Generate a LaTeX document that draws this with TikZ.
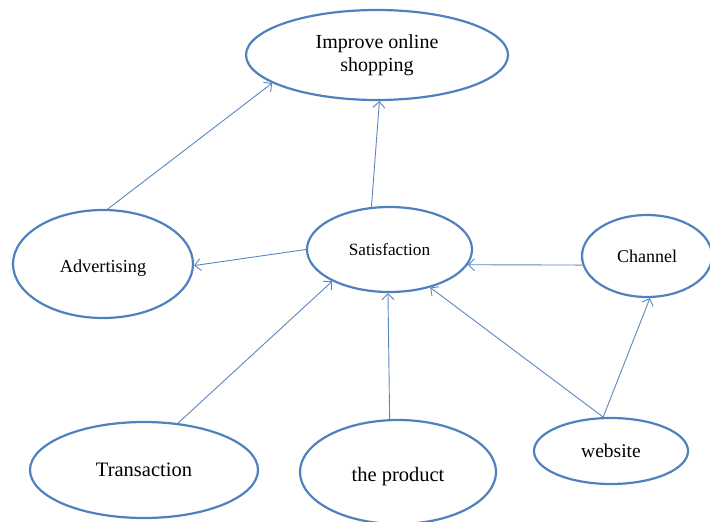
\documentclass[tikz,border=0pt]{standalone}
\usepackage{fontspec}
\setmainfont{Liberation Serif}
\usetikzlibrary{shapes.geometric,arrows.meta}
\definecolor{ringblue}{HTML}{4F81BD}
\definecolor{lineblue}{HTML}{5B86C0}
\tikzset{
  bubble/.style={ellipse, draw=ringblue, line width=2.2pt, inner sep=0pt, align=center, text=black},
  link/.style={draw=lineblue, line width=0.9pt, -{Straight Barb[length=6pt,width=12pt,line width=0.9pt]}},
}
\begin{document}
\begin{tikzpicture}[x=1pt,y=-1pt]
\useasboundingbox (0,0) rectangle (710,522);
\node[bubble, minimum width=262pt, minimum height=90pt, font=\fontsize{20}{23}\selectfont] (imp) at (377,55) {Improve online\\shopping};
\node[bubble, minimum width=180pt, minimum height=108pt, label={[font=\fontsize{18.3}{22}\selectfont, yshift=-4pt]center:Advertising}] (adv) at (103,264) {};
\node[bubble, minimum width=165pt, minimum height=85pt, font=\fontsize{17.2}{20}\selectfont] (sat) at (389.5,249.5) {Satisfaction};
\node[bubble, minimum width=130pt, minimum height=82pt, font=\fontsize{18}{22}\selectfont] (chan) at (647,256) {Channel};
\node[bubble, minimum width=228pt, minimum height=96pt, font=\fontsize{20.5}{24}\selectfont] (trans) at (144,470) {Transaction};
\node[bubble, minimum width=196pt, minimum height=104pt, label={[font=\fontsize{20.5}{24}\selectfont, yshift=-5pt]center:the product}] (prod) at (398,472) {};
\node[bubble, minimum width=154pt, minimum height=66pt, font=\fontsize{19.5}{23}\selectfont] (web) at (611,451) {website};

\draw[link] (adv.85.8) -- (imp.195.5);
\draw[link] (sat.113.7) -- (imp.273.6);
\draw[link] (sat.180) -- (adv.-1);
\draw[link] (chan.188.9) -- (sat.-11.9);
\draw[link] (trans.54.5) -- (sat.209.9);
\draw[link] (prod.99.5) -- (sat.268);
\draw[link] (web.103) -- (sat.-43);
\draw[link] (web.103) -- (chan.-86.4);
\end{tikzpicture}
\end{document}
